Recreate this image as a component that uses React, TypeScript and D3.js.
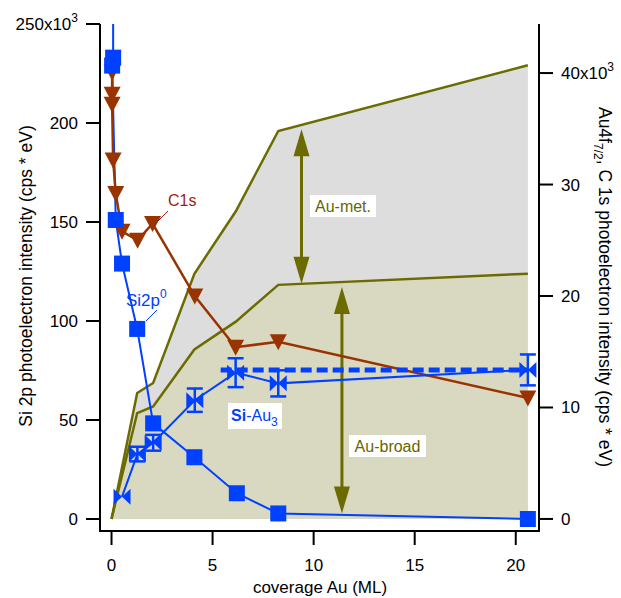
import React from "react";
import * as d3 from "d3";

// Si 2p bulk component (left axis, x10^3 cps*eV)
const si2pCoverage = [0.08, 0.08, 0.03, 0.21, 0.52, 1.27, 2.06, 4.1, 6.2, 8.25, 20.6];
const si2pValues = [268, 233, 229, 151, 129, 96, 48.3, 31.2, 13, 2.8, 0];

// C 1s (right axis, x10^3 cps*eV)
const c1sCoverage = [0.03, 0.03, 0.03, 0.08, 0.21, 0.52, 1.29, 2.03, 4.12, 6.14, 8.25, 20.6];
const c1sValues = [40.1, 38.1, 37.2, 32.2, 29.2, 25.8, 25.0, 26.5, 20.0, 15.4, 15.9, 10.85];

// Si-Au3 component (left axis) with error bars
const siAu3Coverage = [0.52, 1.28, 2.06, 4.12, 6.14, 8.25, 20.6];
const siAu3Values = [11.3, 32.8, 38.5, 60, 73.9, 68.5, 75.3];
const siAu3Errors = [0, 3.7, 4, 5.9, 7.3, 6.6, 7.8];
const siAu3Mean = 75.2;
const siAu3MeanRange = [5.4, 20.6];

// Au 4f7/2 total and broad component (right axis)
const auCoverage = [0, 1.27, 2.06, 4.1, 6.15, 8.25, 20.6];
const auTotal = [0, 11.3, 12.2, 22.0, 27.6, 34.8, 40.7];
const auBroad = [0, 9.5, 10.1, 15.2, 17.7, 21.0, 22.0];

// double arrows marking the two Au contributions
const auMetArrow = { x: 9.4, from: 34.95, to: 21.1 };
const auBroadArrow = { x: 11.4, from: 20.8, to: 0.5 };

const xTicks = [0, 5, 10, 15, 20];
const leftTicks = [0, 50, 100, 150, 200, 250];
const rightTicks = [0, 10, 20, 30, 40];

const BLUE = "#0040ff";
const BROWN = "#993300";
const OLIVE = "#6b6b00";
const OLIVE_TEXT = "#666600";
const FONT = "'Liberation Sans', Arial, sans-serif";

const L = 100, R = 539, T = 24, B = 531;

export default function App() {
  const x = d3.scaleLinear().domain([-0.57, 21.15]).range([L, R]);
  const yL = d3.scaleLinear().domain([-6.06, 250]).range([B, T]);
  const yR = d3.scaleLinear().domain([-1.08, 44.4]).range([B, T]);

  const lineL = d3.line<[number, number]>().x((d) => x(d[0])).y((d) => yL(d[1]));
  const lineR = d3.line<[number, number]>().x((d) => x(d[0])).y((d) => yR(d[1]));
  const areaR = d3
    .area<[number, number]>()
    .x((d) => x(d[0]))
    .y0(() => yR(0))
    .y1((d) => yR(d[1]));

  const si2p = si2pCoverage.map((c, i) => [c, si2pValues[i]] as [number, number]);
  const c1s = c1sCoverage.map((c, i) => [c, c1sValues[i]] as [number, number]);
  const siAu3 = siAu3Coverage.map((c, i) => [c, siAu3Values[i]] as [number, number]);
  const total = auCoverage.map((c, i) => [c, auTotal[i]] as [number, number]);
  const broad = auCoverage.map((c, i) => [c, auBroad[i]] as [number, number]);

  const doubleArrow = (a: { x: number; from: number; to: number }, key: string) => {
    const ax = x(a.x);
    const y1 = yR(a.from);
    const y2 = yR(a.to);
    const hl = 27, hw = 8;
    return (
      <g key={key} fill={OLIVE}>
        <line x1={ax} x2={ax} y1={y1 + hl - 2} y2={y2 - hl + 2} stroke={OLIVE} strokeWidth={3} />
        <path d={`M${ax},${y1} L${ax - hw},${y1 + hl} L${ax + hw},${y1 + hl} Z`} />
        <path d={`M${ax},${y2} L${ax - hw},${y2 - hl} L${ax + hw},${y2 - hl} Z`} />
      </g>
    );
  };

  const bowtie = "M-8.5,-8 L0,0 L-8.5,8 Z M8.5,-8 L0,0 L8.5,8 Z";
  const triDown = "M-8.5,-7.5 L8.5,-7.5 L0,8.5 Z";

  return (
    <svg
      width={621}
      height={598}
      style={{ position: "absolute", left: 0, top: 0, display: "block", fontFamily: FONT }}
    >
      <defs>
        <clipPath id="plotArea">
          <rect x={L} y={T} width={R - L} height={B - T} />
        </clipPath>
      </defs>

      {/* Au contributions */}
      <path d={areaR(total) ?? ""} fill="#dddddd" />
      <path d={areaR(broad) ?? ""} fill="#d9d9c1" />
      <path d={lineR(total) ?? ""} fill="none" stroke={OLIVE} strokeWidth={2.5} />
      <path d={lineR(broad) ?? ""} fill="none" stroke={OLIVE} strokeWidth={2.5} />
      {doubleArrow(auMetArrow, "met")}
      {doubleArrow(auBroadArrow, "broad")}

      <g clipPath="url(#plotArea)">
        {/* Si 2p bulk */}
        <path d={lineL(si2p) ?? ""} fill="none" stroke={BLUE} strokeWidth={2} />
        {/* C 1s */}
        <path d={lineR(c1s) ?? ""} fill="none" stroke={BROWN} strokeWidth={2.5} />
        {/* Si-Au3 */}
        <path d={lineL(siAu3) ?? ""} fill="none" stroke={BLUE} strokeWidth={2} />
        <line
          x1={x(siAu3MeanRange[0])}
          x2={x(siAu3MeanRange[1])}
          y1={yL(siAu3Mean)}
          y2={yL(siAu3Mean)}
          stroke={BLUE}
          strokeWidth={5}
          strokeDasharray="11,5"
        />

        {c1s.map((d, i) => (
          <path key={`c${i}`} d={triDown} transform={`translate(${x(d[0])},${yR(d[1])})`} fill={BROWN} />
        ))}
        {si2p.map((d, i) => (
          <rect key={`s${i}`} x={x(d[0]) - 8} y={yL(d[1]) - 8} width={16} height={16} fill={BLUE} />
        ))}
        {siAu3.map((d, i) => {
          const cx = x(d[0]);
          const cy = yL(d[1]);
          const e = siAu3Errors[i];
          const yt = yL(d[1] + e);
          const yb = yL(d[1] - e);
          return (
            <g key={`a${i}`}>
              {e > 0 && (
                <g stroke={BLUE} strokeWidth={2.5}>
                  <line x1={cx} x2={cx} y1={yt} y2={yb} />
                  <line x1={cx - 8} x2={cx + 8} y1={yt} y2={yt} />
                  <line x1={cx - 8} x2={cx + 8} y1={yb} y2={yb} />
                </g>
              )}
              <path d={bowtie} transform={`translate(${cx},${cy})`} fill={BLUE} />
            </g>
          );
        })}
      </g>

      {/* annotations */}
      <g fontSize={16}>
        <rect x={310} y={195} width={66} height={22} fill="#ffffff" />
        <text x={343} y={212} textAnchor="middle" fill={OLIVE_TEXT}>Au-met.</text>
        <rect x={349} y={435} width={77} height={22} fill="#ffffff" />
        <text x={387.5} y={452} textAnchor="middle" fill={OLIVE_TEXT}>Au-broad</text>

        <text x={168} y={206} fill="#a01c14">C1s</text>
        <line x1={168} y1={211} x2={157} y2={222} stroke="#a01c14" strokeWidth={1} />

        <text x={126} y={306} fill={BLUE} fontSize={17}>
          Si2p<tspan dy={-8} fontSize={12}>0</tspan>
        </text>
        <line x1={157} y1={310} x2={146} y2={321} stroke={BLUE} strokeWidth={1} />

        <rect x={228} y={403} width={54} height={26} fill="#ffffff" />
        <text x={231} y={421} fill={BLUE}>
          <tspan fontWeight="bold">Si</tspan>-Au<tspan dy={5} fontSize={12}>3</tspan>
        </text>
      </g>

      {/* axes */}
      <g stroke="#000" strokeWidth={2} fill="none">
        <line x1={L} x2={L} y1={T} y2={B + 1} />
        <line x1={L - 1} x2={R + 1} y1={B} y2={B} />
        <line x1={R} x2={R} y1={T} y2={B + 1} />
        {leftTicks.map((t) => (
          <line key={`lt${t}`} x1={L - 14} x2={L} y1={yL(t)} y2={yL(t)} />
        ))}
        {rightTicks.map((t) => (
          <line key={`rt${t}`} x1={R} x2={R + 14} y1={yR(t)} y2={yR(t)} />
        ))}
        {xTicks.map((t) => (
          <line key={`xt${t}`} x1={x(t)} x2={x(t)} y1={B} y2={B + 14} />
        ))}
      </g>

      <g fontSize={17} fill="#000">
        {leftTicks.map((t, i) => (
          <text key={`ll${t}`} x={L - 22} y={yL(t) + 6} textAnchor="end">
            {t}
            {i === leftTicks.length - 1 && (
              <>
                x10<tspan dy={-8} fontSize={12}>3</tspan>
              </>
            )}
          </text>
        ))}
        {rightTicks.map((t, i) => (
          <text key={`rl${t}`} x={R + 22} y={yR(t) + 6} textAnchor="start">
            {t}
            {i === rightTicks.length - 1 && (
              <>
                x10<tspan dy={-8} fontSize={12}>3</tspan>
              </>
            )}
          </text>
        ))}
        {xTicks.map((t) => (
          <text key={`xl${t}`} x={x(t)} y={571} textAnchor="middle">
            {t}
          </text>
        ))}

        <text x={320} y={593} textAnchor="middle">coverage Au (ML)</text>
        <text transform="translate(32,276) rotate(-90)" textAnchor="middle" fontSize={17.5}>
          Si 2p photoelectron intensity (cps * eV)
        </text>
        <text transform="translate(599,287) rotate(90)" textAnchor="middle" fontSize={17.5}>
          Au4f<tspan dy={5} fontSize={12}>7/2</tspan>
          <tspan dy={-5}>, C 1s photoelectron intensity (cps * eV)</tspan>
        </text>
      </g>
    </svg>
  );
}
